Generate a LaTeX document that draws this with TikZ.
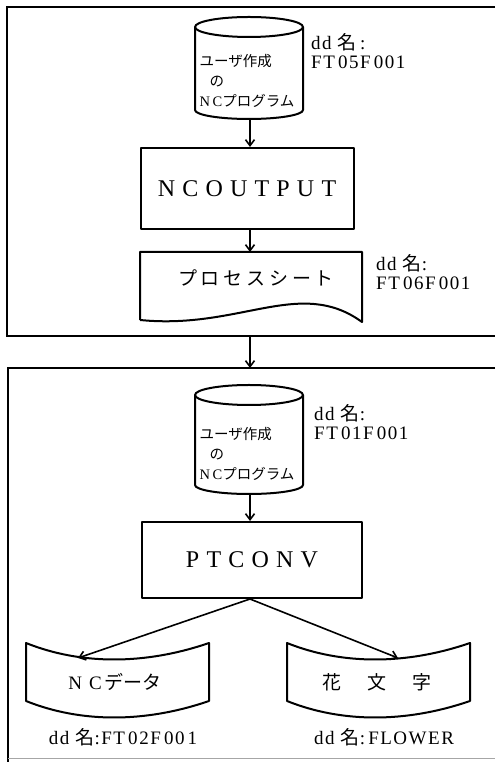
\documentclass[tikz,border=0pt]{standalone}
\usepackage{fontspec}
\setmainfont{Liberation Serif}
\newfontfamily\jp{Noto Sans CJK JP}
\usetikzlibrary{arrows.meta}
% drum(centre x, top ellipse y)(side bottom y : half width)
\def\drum(#1,#2)(#3:#4){\draw[flow] (#1-#4,#2) arc (180:0:#4 and 10) -- (#1+#4,#3) arc (0:-180:#4 and 9) -- cycle; \draw[flow] (#1-#4,#2) arc (180:360:#4 and 10);}
% tape(bottom left x, bottom left y)(width)
\def\tape(#1,#2)(#3){\draw[flow] (#1,#2+58) .. controls (#1+0.3*#3,#2+36) and (#1+0.65*#3,#2+36) .. (#1+#3,#2+58) -- (#1+#3,#2) .. controls (#1+0.65*#3,#2-22) and (#1+0.3*#3,#2-22) .. (#1,#2) -- cycle;}

\begin{document}
\begin{tikzpicture}[x=1pt,y=1pt,
	flow/.style={line width=2pt, line join=round},
	arr/.style={line width=1.6pt, -{Straight Barb[length=6pt,width=9pt]}},
	frame/.style={line width=2.4pt},
	procbox/.style={draw, flow, inner sep=0pt, font=\fontsize{24}{24}\selectfont\addfontfeatures{LetterSpace=30}},
	drumtext/.style={align=left, inner sep=0pt, font=\fontsize{14.5}{20}\selectfont\jp},
	bigjp/.style={inner sep=0pt, font=\fontsize{19}{19}\selectfont\jp},
	ddname/.style={align=left, inner sep=0pt, font=\fontsize{19}{19}\selectfont\addfontfeatures{LetterSpace=8}}]
		%%%%% START %%%%%
		\useasboundingbox (0,0) rectangle (495,762);
		\fill[white] (0,0) rectangle (495,762);
		\coordinate (spine) at (250,0);
		
		% upper block
		\draw[frame] (495,755) -- (7,755) -- (7,426) -- (495,426);
		
		\drum(249,735)(652:54)
		\node[drumtext] (src1) at (247,681) {ユーザ作成\\\hspace{10pt}の\\\textrm{N\,C}プログラム};
		\coordinate (src1-out) at (250,643);
		\node[ddname, anchor=west] (dd1) at (311,711) {dd {\jp 名}\,:\\FT\,05F\,001};
		
		\node[procbox, minimum width=213pt, minimum height=81pt] (ncout) at (247,573.5) {NCOUTPUT};
		
		\draw[flow] (140,442) -- (140,510) -- (362,510) -- (362,440) .. controls (300,485) and (240,432) .. (140,442);
		\node[bigjp, font=\fontsize{19}{19}\selectfont\jp\addfontfeatures{LetterSpace=20}] (sheet) at (256,484) {プロセスシート};
		\coordinate (sheet-in) at (250,510);
		\node[ddname, anchor=west] (dd2) at (376,490) {dd {\jp 名}:\\FT\,06F\,001};
		
		\draw[arr] (src1-out) -- (spine |- ncout.north);
		\draw[arr] (spine |- ncout.south) -- (sheet-in);
		
		% between the blocks
		\coordinate (up-out) at (250,426);
		\coordinate (lo-in) at (250,394);
		\draw[arr] (up-out) -- (lo-in);
		
		% lower block
		\draw[frame] (495,394) -- (8,394) -- (8,0);
		\draw[line width=1pt, black!35] (8,3) -- (495,3);
		
		\drum(249,367)(277:54)
		\node[drumtext] (src2) at (247,308) {ユーザ作成\\\hspace{10pt}の\\\textrm{N\,C}プログラム};
		\coordinate (src2-out) at (250,267);
		\node[ddname, anchor=west] (dd3) at (314,340) {dd {\jp 名}:\\FT\,01F\,001};
		
		\node[procbox, minimum width=220pt, minimum height=76pt] (ptconv) at (252,202) {PTCONV};
		\draw[arr] (src2-out) -- (spine |- ptconv.north);
		
		\tape(26,61)(183)
		\node[bigjp] (ncdata) at (115,80) {\textrm{N\hspace{7pt}C}\hspace{3pt}データ};
		\coordinate (ncdata-in) at (78,104);
		\node[ddname] (dd4) at (123,25) {dd {\jp 名}:FT\,02F\,00\,1};
		
		\tape(287,61)(183)
		\node[bigjp] (flower) at (377,80) {花\hspace{26pt}文\hspace{26pt}字};
		\coordinate (flower-in) at (398,104);
		\node[ddname] (dd5) at (384,25) {dd {\jp 名}:\,FLOWER};
		
		\draw[arr] (spine |- ptconv.south) -- (ncdata-in);
		\draw[arr] (spine |- ptconv.south) -- (flower-in);
		%%%%% END %%%%%
\end{tikzpicture}
\end{document}
